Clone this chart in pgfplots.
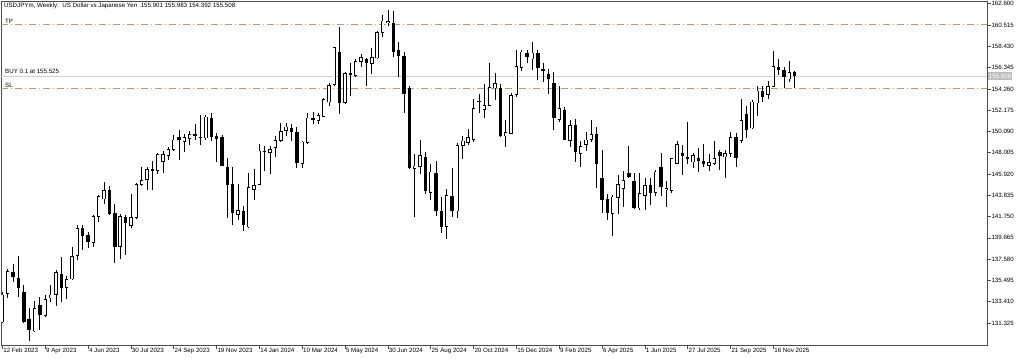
\documentclass[border=0pt]{standalone}
\usepackage{fontspec}
\setmainfont{Liberation Sans}
\usepackage{pgfplots}
\usepackage{pgfplotstable}
\pgfplotsset{compat=1.18}
\definecolor{lvl}{RGB}{205,148,108}
\definecolor{buyln}{RGB}{208,208,208}
\definecolor{pbox}{RGB}{190,190,190}

\pgfplotstableread{
x o h l c
0 131.4 134.35 131.3 134.1
1 134.2 136.6 133.8 136.4
6 130.5 133.5 130.4 132.75
8 132.0 134.1 131.9 133.65
9 133.75 135.05 133.4 134.1
10 134.1 136.5 133.0 136.3
12 134.8 135.9 133.7 135.6
13 135.6 138.8 135.5 137.9
14 137.9 140.9 137.5 140.6
17 139.2 141.9 138.8 141.8
18 141.7 143.9 141.2 143.75
19 143.45 145.1 143.0 144.35
22 138.75 142.0 137.6 141.8
24 140.85 144.0 140.6 141.7
25 141.6 145.0 141.5 144.9
26 144.85 146.6 144.7 145.35
27 145.35 146.6 144.4 146.4
29 146.2 148.0 145.9 147.9
30 147.1 148.2 146.0 147.9
31 147.7 148.6 147.3 148.35
32 148.3 149.7 148.2 149.3
34 149.1 149.8 148.1 149.5
35 149.35 150.1 148.8 149.85
38 149.4 151.7 149.3 151.55
44 141.95 144.95 141.45 142.4
46 140.7 146.0 140.6 144.6
47 144.4 146.45 143.4 144.85
48 144.85 148.85 144.8 148.2
50 148.0 148.7 145.9 148.35
51 148.45 149.6 147.6 149.25
52 149.2 150.95 149.1 150.15
53 150.15 150.9 149.6 150.55
56 146.95 149.2 146.5 149.1
57 148.95 151.9 148.9 151.45
59 151.1 151.9 150.8 151.7
60 151.55 153.4 151.5 153.25
61 152.95 154.8 152.6 154.65
62 154.65 158.4 154.5 158.35
64 152.9 155.95 152.8 155.8
66 155.55 157.2 155.4 156.95
67 156.9 157.7 156.4 157.35
69 156.7 158.3 155.7 157.4
70 157.25 159.9 157.2 159.85
71 159.75 161.5 159.3 160.95
72 160.7 161.98 160.4 160.9
77 146.4 147.9 141.7 146.75
78 146.6 149.3 145.9 147.8
80 144.1 146.9 143.4 146.15
83 140.75 144.5 139.6 143.85
85 142.25 149.0 141.6 148.75
86 148.65 149.6 147.35 149.2
87 149.0 150.3 148.8 149.55
88 149.25 153.25 149.1 152.35
89 153.0 153.75 151.85 153.05
90 152.2 154.7 151.4 152.7
91 152.6 156.8 152.55 154.4
92 154.3 155.8 153.2 154.8
94 149.6 151.2 148.6 150.05
95 149.85 153.9 149.8 153.65
96 153.65 158.1 153.5 156.5
97 156.35 158.1 156.0 157.9
99 157.15 158.9 156.1 157.8
104 151.2 154.5 151.0 152.35
106 149.15 151.2 148.6 150.7
108 147.9 149.2 146.6 148.65
109 148.75 150.0 148.2 149.3
110 149.3 151.2 149.1 149.85
114 142.0 143.9 139.8 143.7
115 143.6 145.85 142.0 144.95
116 144.5 146.2 142.7 145.35
119 142.55 146.0 142.4 144.05
120 143.8 145.5 142.4 144.85
122 144.05 146.3 143.8 146.15
124 144.4 145.2 142.7 144.55
125 144.3 147.5 144.1 147.45
126 146.95 149.2 146.9 148.85
129 147.05 148.0 146.5 147.8
132 146.7 147.9 146.2 147.05
133 146.9 149.2 146.8 147.45
135 147.55 148.3 145.5 147.95
136 147.9 150.0 147.6 149.5
138 149.2 153.3 149.0 151.2
140 150.4 153.2 150.3 153.0
141 152.85 154.5 151.6 154.1
143 153.65 155.0 153.3 154.55
144 154.45 158.0 154.4 156.5
147 155.2 157.0 154.9 155.9
}\bull

\pgfplotstableread{
x o h l c
2 136.3 137.1 135.3 135.8
3 135.75 137.9 133.9 134.8
4 134.35 135.0 131.3 131.45
5 131.7 132.8 129.6 130.65
7 133.1 133.9 130.6 132.1
11 136.1 137.8 133.4 134.8
15 140.6 140.9 138.5 139.85
16 139.9 140.2 138.7 139.3
20 144.35 144.75 141.95 142.0
21 142.1 143.0 137.2 138.75
23 141.7 141.95 138.0 141.15
28 146.4 147.2 144.4 146.2
33 149.55 150.2 147.3 149.25
36 149.85 150.8 149.3 149.65
37 149.45 151.75 148.75 149.4
39 151.45 151.9 149.2 149.5
40 149.6 149.9 147.1 149.35
41 149.5 149.7 146.7 146.7
42 146.65 147.45 141.6 144.85
43 144.95 146.65 140.9 142.15
45 142.25 142.8 140.3 140.9
49 148.2 148.7 146.25 148.05
54 150.4 150.8 149.2 150.05
55 150.0 150.5 146.5 147.0
58 151.4 151.97 150.8 151.2
63 157.9 160.3 151.8 152.9
65 155.8 156.8 153.6 155.65
68 157.15 157.3 154.55 156.75
73 160.75 161.9 157.4 157.9
74 158.05 158.9 155.45 157.5
75 157.5 157.9 151.9 153.8
76 154.3 154.5 146.4 146.5
79 147.6 148.1 144.0 144.3
81 146.05 147.2 141.8 142.25
82 142.25 143.7 140.1 140.75
84 143.75 146.5 141.7 142.25
93 154.3 154.7 149.5 149.6
98 157.75 158.1 156.75 157.4
100 157.8 158.1 155.1 156.35
101 156.25 156.8 154.95 156.05
102 155.7 156.2 153.8 155.2
103 154.8 155.9 150.2 151.4
105 152.2 152.5 149.3 149.3
107 150.7 151.3 147.1 148.1
111 149.85 150.5 144.55 146.95
112 145.5 148.3 142.1 143.4
113 143.5 144.0 141.4 142.1
117 146.0 148.7 145.5 145.65
118 145.2 146.0 142.5 142.55
121 144.85 145.5 142.9 144.1
123 146.6 148.0 143.8 144.6
127 147.95 148.8 145.8 147.7
128 147.6 151.0 146.9 147.4
130 147.45 148.5 146.15 147.15
131 147.2 148.85 146.6 146.9
134 148.05 148.3 146.3 147.7
137 149.5 149.9 146.6 147.5
139 151.8 152.6 149.4 150.25
142 154.1 154.5 153.0 153.45
145 156.45 157.2 155.6 156.1
146 156.1 156.4 154.3 155.45
148 155.901 155.983 154.392 155.508
}\bear

\newcommand{\sm}{\fontsize{6.2}{7}\selectfont}

\begin{document}
\begin{tikzpicture}
\useasboundingbox (0,0) rectangle (1024bp,359bp);
\begin{axis}[
  at={(1bp,14bp)}, anchor=south west,
  scale only axis, width=986bp, height=344bp,
  xmin=-0.26, xmax=183.9, ymin=129.17, ymax=162.87,
  clip mode=individual,
  axis line style={draw=black!70, line width=0.6bp},
  tick align=outside, major tick length=3.5bp,
  tick style={draw=black!70, line width=0.6bp},
  xtick pos=bottom, ytick pos=right, yticklabel pos=right,
  xtick={0,8,...,144},
  xticklabels={12 Feb 2023, 9 Apr 2023, 4 Jun 2023, 30 Jul 2023, 24 Sep 2023, 19 Nov 2023, 14 Jan 2024, 10 Mar 2024, 5 May 2024, 30 Jun 2024, 25 Aug 2024, 20 Oct 2024, 15 Dec 2024, 9 Feb 2025, 6 Apr 2025, 1 Jun 2025, 27 Jul 2025, 21 Sep 2025, 16 Nov 2025},
  xticklabel style={anchor=north west, inner sep=0pt, xshift=0.8bp, yshift=1bp, font=\sm},
  ytick={131.325,133.41,135.495,137.58,139.665,141.75,143.835,145.92,148.005,150.09,152.175,154.26,156.345,158.43,160.515,162.6},
  yticklabel style={anchor=west, inner sep=0pt, xshift=0.8bp, font=\sm,
    /pgf/number format/fixed, /pgf/number format/fixed zerofill,
    /pgf/number format/precision=3, /pgf/number format/1000 sep={}},
  /pgf/number format/assume math mode=true,
  candle/.style={draw=none, mark=none, forget plot, error bars/.cd, y dir=plus, y explicit, error mark=none},
]
% levels
\addplot[lvl, line width=0.75bp, dash pattern=on 6.5bp off 3bp on 1.5bp off 3bp, forget plot] coordinates {(-0.26,160.55) (183.9,160.55)};
\addplot[lvl, line width=0.75bp, dash pattern=on 6.5bp off 3bp on 1.5bp off 3bp, forget plot] coordinates {(-0.26,154.31) (183.9,154.31)};
\addplot[buyln, line width=0.8bp, forget plot] coordinates {(-0.26,155.525) (183.9,155.525)};
% wicks
\addplot[candle, error bar style={line width=0.75bp, draw=black, solid}]
  table[x=x, y=l, y error plus expr=\thisrow{h}-\thisrow{l}] {\bull};
\addplot[candle, error bar style={line width=0.75bp, draw=black, solid}]
  table[x=x, y=l, y error plus expr=\thisrow{h}-\thisrow{l}] {\bear};
% bear bodies
\addplot[candle, error bar style={line width=3.4bp, draw=black, solid}]
  table[x=x, y=c, y error plus expr={max(\thisrow{o}-\thisrow{c},0.1)}] {\bear};
% bull bodies: outline then white inside
\addplot[candle, error bar style={line width=3.4bp, draw=black, solid}]
  table[x=x, y=o, y error plus expr={max(\thisrow{c}-\thisrow{o},0.1)}] {\bull};
\addplot[candle, error bar style={line width=2.0bp, draw=white, solid}]
  table[x=x, y expr=\thisrow{o}+0.07, y error plus expr={max(\thisrow{c}-\thisrow{o}-0.14,0)}] {\bull};
% texts
\node[anchor=west, inner sep=0pt, font=\sm] at (rel axis cs:0.003,0.9855) {USDJPYm, Weekly:\ \ US Dollar vs Japanese Yen\ \ 155.901 155.983 154.392 155.508};
\node[anchor=south west, inner sep=0pt, font=\sm, xshift=4bp, yshift=1.3bp] at (axis cs:-0.26,160.515) {TP};
\node[anchor=south west, inner sep=0pt, font=\sm, xshift=4bp, yshift=2.5bp] at (axis cs:-0.26,155.525) {BUY 0.1 at 155.525};
\node[anchor=south west, inner sep=0pt, font=\sm, xshift=4bp, yshift=1bp] at (axis cs:-0.26,154.26) {SL};
\node[anchor=west, fill=pbox, text=white, inner xsep=1.2bp, inner ysep=0pt, minimum height=8.5bp, font=\sm, xshift=0.5bp] at (axis cs:183.9,155.508) {155.508};
\end{axis}
\end{tikzpicture}
\end{document}
